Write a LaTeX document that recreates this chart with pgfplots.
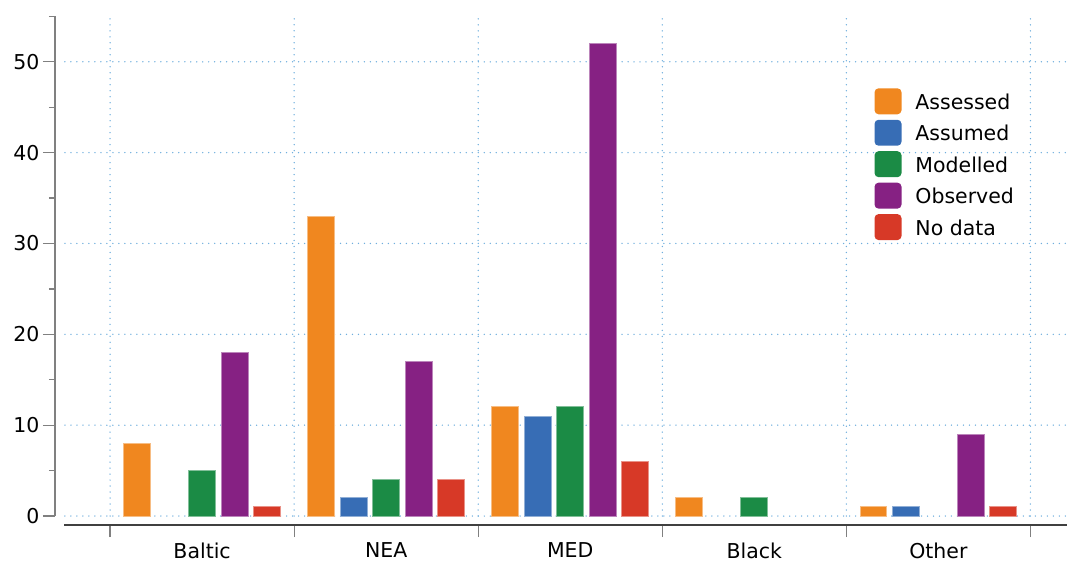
\documentclass[border=0pt]{standalone}
\usepackage{fontspec}
\setmainfont{DejaVu Sans}
\usepackage{pgfplots}
\pgfplotsset{compat=1.18}

\definecolor{cAssessed}{HTML}{F0871F}
\definecolor{cAssumed}{HTML}{376DB5}
\definecolor{cModelled}{HTML}{1B8B45}
\definecolor{cObserved}{HTML}{862183}
\definecolor{cNodata}{HTML}{D73927}
\definecolor{gridblue}{HTML}{6FAEDD}
\definecolor{axgray}{HTML}{808080}

\begin{document}
\begin{tikzpicture}
\begin{axis}[
  scale only axis,
  width=1014.2pt, height=526pt,
  xmin=-0.8, xmax=4.7,
  ymin=-1, ymax=56.8,
  clip=false,
  axis line style={draw=none},
  font=\fontsize{20.5}{24}\selectfont,
  /pgf/number format/assume math mode=true,
  tick align=outside,
  xtick pos=bottom, ytick pos=left,
  ytick={0,10,...,50},
  minor ytick={5,15,...,55},
  major tick length=12pt, minor tick length=6pt,
  every tick/.style={axgray, line width=1.3pt},
  xtick={-0.5,0.5,...,4.5},
  xticklabels={},
  extra x ticks={0,1,2,3,4},
  extra x tick labels={Baltic,NEA,MED,Black,Other},
  extra x tick style={major tick length=0pt, xticklabel style={yshift=-14pt}},
  ybar=5.5pt, bar width=27pt,
  legend cell align=left,
  legend style={at={(axis cs:3.652,47.1)}, anchor=north west, draw=none, fill=none,
    inner sep=0pt, row sep=5.5pt, font=\fontsize{20.5}{24}\selectfont,
    nodes={inner xsep=14pt}},
  legend image code/.code={\fill[#1, draw=none, rounded corners=4pt] (0pt,-12pt) rectangle (27pt,14pt);},
]
% grid
\pgfplotsinvokeforeach{0,10,...,50}{
  \draw[gridblue, line width=1.5pt, line cap=round, dash pattern=on 0pt off 6pt] (axis cs:-0.745,#1) -- (axis cs:4.7,#1);
}
\pgfplotsinvokeforeach{-0.5,0.5,...,4.5}{
  \draw[gridblue, line width=1.5pt, line cap=round, dash pattern=on 0pt off 6pt] (axis cs:#1,0) -- (axis cs:#1,55.2);
}
% axis lines
\draw[axgray, line width=1.5pt] (axis cs:-0.8,0) -- (axis cs:-0.8,55);
\draw[black!75, line width=1.5pt] (axis cs:-0.75,-1) -- (axis cs:4.7,-1);
% page extent
\path (axis cs:-1.098,-5.05) (axis cs:4.7,56.8);

\addplot[fill=cAssessed, draw=cAssessed!55!white, line width=1pt] coordinates {(0,8)(1,33)(2,12)(3,2)(4,1)};
\addlegendentry{Assessed}
\addplot[fill=cAssumed, draw=cAssumed!55!white, line width=1pt] coordinates {(1,2)(2,11)(4,1)};
\addlegendentry{Assumed}
\addplot[fill=cModelled, draw=cModelled!55!white, line width=1pt] coordinates {(0,5)(1,4)(2,12)(3,2)};
\addlegendentry{Modelled}
\addplot[fill=cObserved, draw=cObserved!55!white, line width=1pt] coordinates {(0,18)(1,17)(2,52)(4,9)};
\addlegendentry{Observed}
\addplot[fill=cNodata, draw=cNodata!55!white, line width=1pt] coordinates {(0,1)(1,4)(2,6)(4,1)};
\addlegendentry{No data}
\end{axis}
\end{tikzpicture}
\end{document}
